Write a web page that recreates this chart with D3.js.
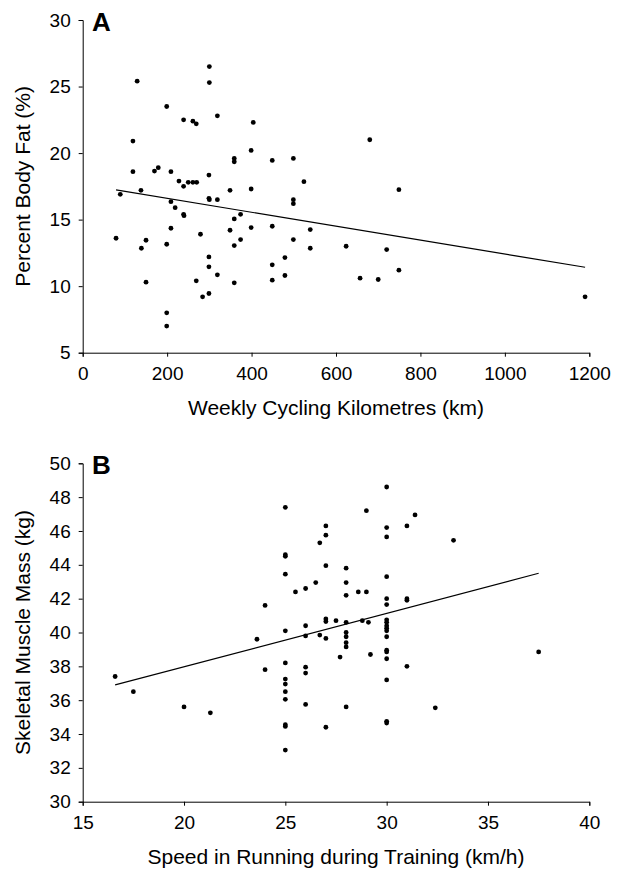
<!doctype html>
<html lang="en">
  <head>
    <meta charset="utf-8">
    <script src="https://d3js.org/d3.v7.min.js"></script>
    <title>Body fat and muscle mass</title>
    <style>
      body { margin: 0; background: #fff; }
      svg { display: block; font-family: "Liberation Sans", Arial, sans-serif; }
      .tick text { font-size: 19px; fill: #000; }
      .axis-title { font-size: 21px; fill: #000; }
      .panel-label { font-size: 26px; font-weight: bold; fill: #000; }
    </style>
  </head>
  <body>
    <div id="chart"></div>
    <script type="text/javascript">

      // Panel A : weekly cycling km vs percent body fat
      const cyclingKm = [300,300,129,199,239,261,269,319,404,119,399,359,359,449,499,119,170,179,209,299,
        228,239,250,261,270,524,138,89,349,399,299,300,319,499,499,209,219,239,240,374,359,449,209,399,
        349,539,279,79,150,374,499,139,199,359,539,624,299,479,299,449,319,479,150,269,359,449,657,284,
        299,749,720,749,700,1190,680,199,199];
      const bodyFat = [26.5,25.3,25.4,23.5,22.5,22.4,22.2,22.8,22.3,20.9,20.2,19.6,19.35,19.45,19.6,18.6,
        18.65,18.9,18.6,18.35,17.9,17.5,17.8,17.8,17.8,17.85,17.2,16.9,17.2,17.3,16.6,16.5,16.5,16.5,16.2,
        16.35,15.9,15.4,15.3,15.4,15.05,14.5,14.35,14.4,14.2,14.25,13.9,13.6,13.45,13.5,13.5,12.85,13.15,
        13.05,12.85,13.0,12.2,12.15,11.45,11.6,10.85,10.8,10.3,10.4,10.25,10.45,10.6,9.2,9.45,17.25,12.75,
        11.2,10.5,9.2,21.0,8.0,7.0];
      const fitA = [[79, 17.23], [1190, 11.42]];
      const ticksXA = [0, 200, 400, 600, 800, 1000, 1200];
      const ticksYA = [5, 10, 15, 20, 25, 30];

      // Panel B : running speed vs skeletal muscle mass
      const runSpeed = [25,27,27,26.7,25,25,27,28,25,25.5,26,26.5,28,28,30,29,31.4,30,31,30,33.3,28.6,29,
        30,30,31,31,30,24,25,26,26,27,27,27.5,28,26.7,27,28,28,28,28,27.7,23.6,16.6,17.5,24,25,26,26,25,25,
        25,25,20,21.3,26,28,25,25,27,28.8,29.1,30,30,30,30,30,30,29.2,30,30,30,31,37.5,30,32.4,30,30,25];
      const muscleMass = [47.4,46.3,45.75,45.3,44.6,44.5,43.95,43.8,43.45,42.4,42.6,42.95,42.95,42.2,48.6,
        47.2,46.95,46.2,46.3,45.65,45.45,42.4,42.4,43.3,42.0,42.0,41.9,41.65,41.6,40.1,40.4,39.8,40.8,40.65,
        40.7,40.6,39.85,39.65,40.0,39.75,39.4,39.15,38.55,39.6,37.4,36.5,37.8,38.2,37.95,37.6,37.25,36.95,
        36.5,36.05,35.6,35.25,35.75,35.6,34.55,34.45,34.4,40.7,40.6,40.75,40.6,40.4,40.25,40.1,39.75,38.7,
        38.95,38.85,38.45,38.0,38.85,37.2,35.55,34.75,34.65,33.05];
      const fitB = [[16.6, 36.9], [37.5, 43.5]];
      const ticksXB = [15, 20, 25, 30, 35, 40];
      const ticksYB = [30, 32, 34, 36, 38, 40, 42, 44, 46, 48, 50];

      const W = 621, H = 870;
      const svg = d3.select("#chart").append("svg")
        .attr("width", W).attr("height", H);

      function panel(opts) {
        const x = d3.scaleLinear().domain(opts.xDomain).range([82.7, 589.3]);
        const y = d3.scaleLinear().domain(opts.yDomain).range([opts.bottom, opts.top]);
        const g = svg.append("g");

        g.append("g")
          .attr("transform", "translate(0," + opts.bottom + ")")
          .call(d3.axisBottom(x).tickValues(opts.xTicks).tickSize(4).tickPadding(10).tickFormat(d3.format("d")))
          .call(a => a.selectAll("line,path").attr("stroke", "#000"));

        g.append("g")
          .attr("transform", "translate(82.7,0)")
          .call(d3.axisLeft(y).tickValues(opts.yTicks).tickSize(4).tickPadding(8).tickFormat(d3.format("d")))
          .call(a => a.selectAll("line,path").attr("stroke", "#000"));

        g.append("text").attr("class", "axis-title")
          .attr("x", 336).attr("y", opts.bottom + 62)
          .attr("text-anchor", "middle")
          .text(opts.xTitle);

        g.append("text").attr("class", "axis-title")
          .attr("transform", "translate(30," + (opts.top + opts.bottom) / 2 + ") rotate(-90)")
          .attr("text-anchor", "middle")
          .text(opts.yTitle);

        g.append("text").attr("class", "panel-label")
          .attr("x", 92).attr("y", opts.top + 11)
          .text(opts.label);

        g.append("g")
          .selectAll("circle")
          .data(d3.zip(opts.xs, opts.ys))
          .enter()
          .append("circle")
            .attr("cx", d => x(d[0]))
            .attr("cy", d => y(d[1]))
            .attr("r", 2.4)
            .attr("fill", "#000");

        g.append("path")
          .datum(opts.fit)
          .attr("fill", "none")
          .attr("stroke", "#000")
          .attr("stroke-width", 1.2)
          .attr("d", d3.line().x(d => x(d[0])).y(d => y(d[1])));
      }

      panel({
        label: "A", top: 20, bottom: 352.7,
        xDomain: [0, 1200], yDomain: [5, 30],
        xTicks: ticksXA, yTicks: ticksYA,
        xs: cyclingKm, ys: bodyFat, fit: fitA,
        xTitle: "Weekly Cycling Kilometres (km)",
        yTitle: "Percent Body Fat (%)"
      });

      panel({
        label: "B", top: 463.3, bottom: 801.7,
        xDomain: [15, 40], yDomain: [30, 50],
        xTicks: ticksXB, yTicks: ticksYB,
        xs: runSpeed, ys: muscleMass, fit: fitB,
        xTitle: "Speed in Running during Training (km/h)",
        yTitle: "Skeletal Muscle Mass (kg)"
      });
    </script>
  </body>
</html>
